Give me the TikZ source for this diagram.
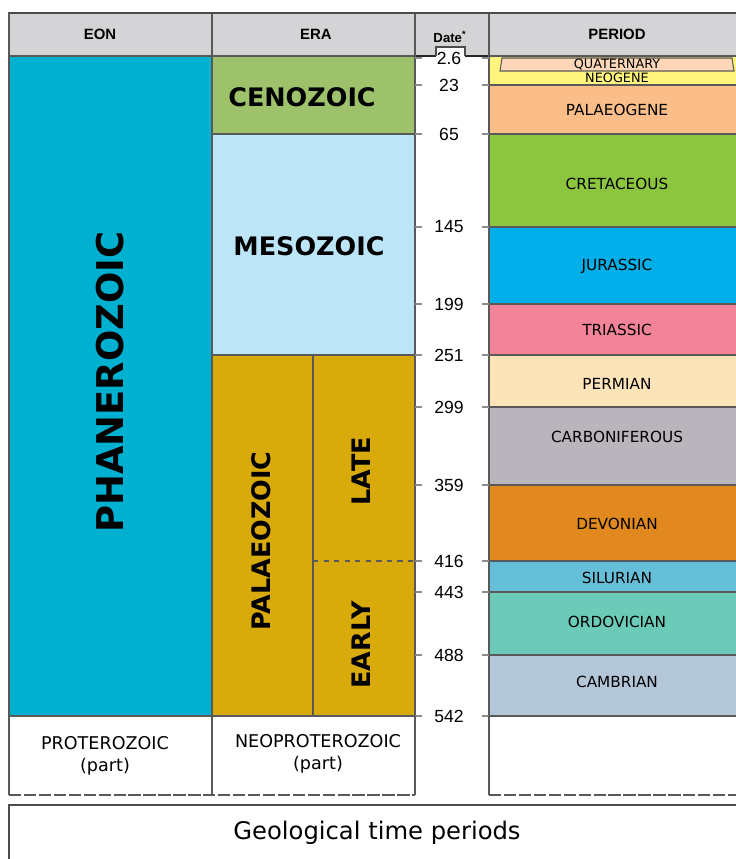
\documentclass[tikz,border=0pt]{standalone}
\usepackage{fontspec}
\setmainfont{DejaVu Sans}
\newfontfamily\narrowfont{Liberation Sans}

\definecolor{headgray}{HTML}{D4D4D6}
\definecolor{phanero}{HTML}{00B0D0}
\definecolor{ceno}{HTML}{9DC26B}
\definecolor{meso}{HTML}{BDE5F8}
\definecolor{palaeo}{HTML}{D9AA0B}
\definecolor{quat}{HTML}{FDD7B7}
\definecolor{neog}{HTML}{FFF57D}
\definecolor{paleog}{HTML}{FBBE88}
\definecolor{creta}{HTML}{8CC63F}
\definecolor{jura}{HTML}{00AEE9}
\definecolor{trias}{HTML}{F38399}
\definecolor{perm}{HTML}{FDE3B8}
\definecolor{carbon}{HTML}{BAB4BD}
\definecolor{devon}{HTML}{E1891F}
\definecolor{silur}{HTML}{65BFD9}
\definecolor{ordov}{HTML}{6CCBB8}
\definecolor{cambr}{HTML}{B3C7D9}

\begin{document}
\begin{tikzpicture}[
  x=0.02cm, y=-0.02cm,
  band/.style={draw=black!65, line width=0.6pt},
  head/.style={font=\narrowfont\bfseries\fontsize{8.5}{10}\selectfont},
  eratext/.style={font=\bfseries\fontsize{14.5}{16}\selectfont},
  pertext/.style={font=\fontsize{8.7}{10}\selectfont},
  smalltext/.style={font=\fontsize{7.3}{8}\selectfont, inner sep=0pt},
  datetext/.style={font=\narrowfont\fontsize{10}{11}\selectfont, inner sep=1pt},
  tick/.style={draw=black!45, line width=0.8pt}
]
\useasboundingbox (0,0) rectangle (735,859);

% header row
\draw[band, fill=headgray] (9,13) rectangle (745,56);
\draw[band] (212,13) -- (212,56) (415,13) -- (415,56) (489,13) -- (489,56);
\draw[black!70, line width=1.2pt] (9,13) -- (745,13);
\draw[black!85, line width=1.2pt] (9,56) -- (745,56);
\node[head] (eonhead) at (100,34) {EON};
\node[head] (erahead) at (316,34) {ERA};
\node[head, font=\narrowfont\bfseries\fontsize{7.5}{9}\selectfont] (datehead) at (450,37) {Date\textsuperscript{*}};
\node[head] (periodhead) at (617,34) {PERIOD};

% eon
\draw[band, fill=phanero] (9,56) rectangle (212,716);
\node[font=\bfseries\fontsize{21}{24}\selectfont, rotate=90] (phanerozoic) at (110,382) {PHANEROZOIC};

% eras
\draw[band, fill=ceno] (212,56) rectangle (415,134);
\draw[band, fill=meso] (212,134) rectangle (415,355);
\draw[band, fill=palaeo] (212,355) rectangle (415,716);
\draw[band] (313,355) -- (313,716);
\draw[band, dashed] (313,561) -- (415,561);
\node[eratext] (cenozoic) at (302,97) {CENOZOIC};
\node[eratext] (mesozoic) at (309,246) {MESOZOIC};
\node[eratext, rotate=90] (palaeozoic) at (261,541) {PALAEOZOIC};
\node[eratext, rotate=90] (late) at (361,471) {LATE};
\node[eratext, rotate=90] (early) at (361,645) {EARLY};

% periods
\draw[band, fill=neog] (489,56) rectangle (745,85);
\draw[band, fill=paleog] (489,85) rectangle (745,134);
\draw[band, fill=creta] (489,134) rectangle (745,227);
\draw[band, fill=jura] (489,227) rectangle (745,304);
\draw[band, fill=trias] (489,304) rectangle (745,355);
\draw[band, fill=perm] (489,355) rectangle (745,407);
\draw[band, fill=carbon] (489,407) rectangle (745,485);
\draw[band, fill=devon] (489,485) rectangle (745,561);
\draw[band, fill=silur] (489,561) rectangle (745,592);
\draw[band, fill=ordov] (489,592) rectangle (745,655);
\draw[band, fill=cambr] (489,655) rectangle (745,716);
\draw[band, fill=quat] (502,58) -- (732,58) -- (734,71) -- (500,71) -- cycle;
\node[smalltext] (quaternary) at (617,65) {QUATERNARY};
\node[smalltext] (neogene) at (617,78) {NEOGENE};
\node[pertext] (palaeogene) at (617,110) {PALAEOGENE};
\node[pertext] (cretaceous) at (617,184) {CRETACEOUS};
\node[pertext] (jurassic) at (617,266) {JURASSIC};
\node[pertext] (triassic) at (617,330) {TRIASSIC};
\node[pertext] (permian) at (617,384) {PERMIAN};
\node[pertext] (carboniferous) at (617,437) {CARBONIFEROUS};
\node[pertext] (devonian) at (617,524) {DEVONIAN};
\node[pertext] (silurian) at (617,578) {SILURIAN};
\node[pertext] (ordovician) at (617,622) {ORDOVICIAN};
\node[pertext] (cambrian) at (617,682) {CAMBRIAN};

% dates
\fill[white] (436,47) rectangle (465,66);
\draw[black!70, line width=0.6pt] (436,56) |- (465,47) -- (465,56);
\foreach \y/\t [count=\i] in {58/2.6, 85/23, 134/65, 227/145, 304/199, 355/251,
    407/299, 485/359, 561/416, 592/443, 655/488, 716/542} {
  \draw[tick] (415,\y) -- (422,\y) (482,\y) -- (489,\y);
  \node[datetext] (date\i) at (449,\y) {\t};
}

% older part
\draw[band] (9,716) -- (9,795) (212,716) -- (212,795) (415,716) -- (415,795) (489,716) -- (489,795);
\draw[band, dashed, dash pattern=on 7pt off 1.5pt] (9,795) -- (415,795) (489,795) -- (745,795);
\node[font=\fontsize{10}{12.5}\selectfont, align=center] (proterozoic) at (105,756) {PROTEROZOIC\\(part)};
\node[font=\fontsize{10}{12.5}\selectfont, align=center] (neoproterozoic) at (318,754) {NEOPROTEROZOIC\\(part)};

% caption
\draw[black!70, line width=0.8pt] (9,805) rectangle (745,870);
\node[font=\fontsize{13.8}{16}\selectfont] (caption) at (377,833) {Geological time periods};
\end{tikzpicture}
\end{document}
